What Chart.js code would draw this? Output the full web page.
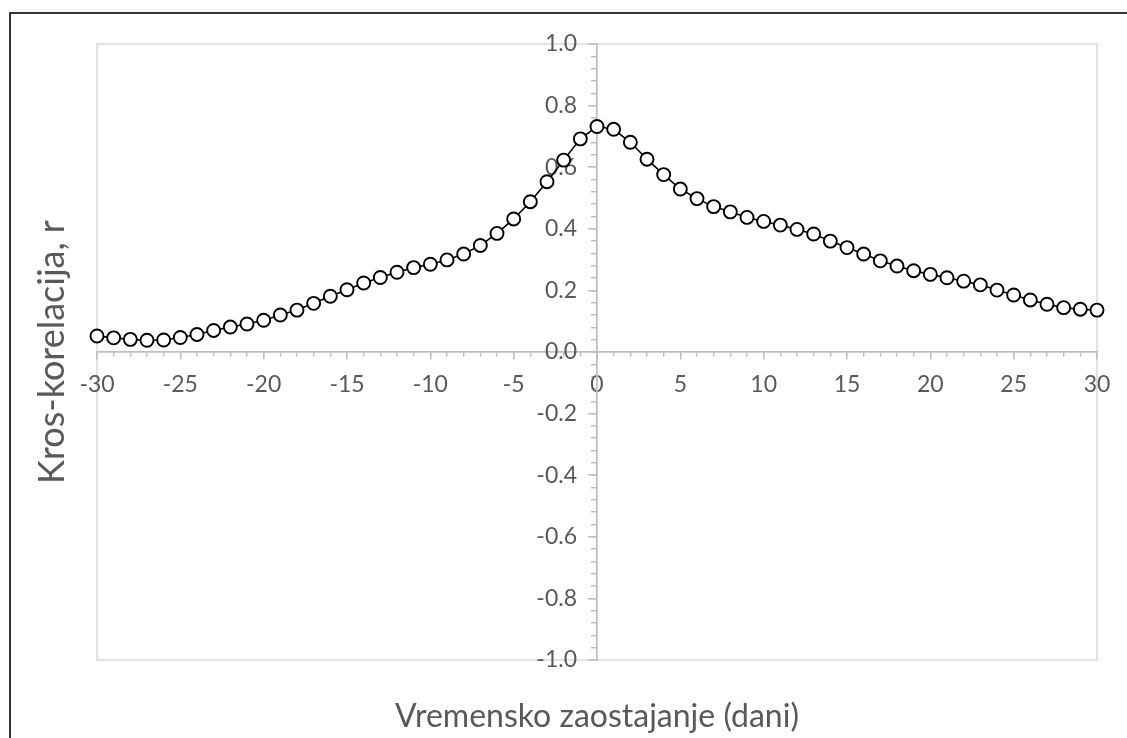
<!DOCTYPE html>
<html>
<head>
<meta charset="utf-8">
<script src="https://cdn.jsdelivr.net/npm/chart.js@4/dist/chart.umd.min.js"></script>
<style>
  body { margin: 0; background: #fff; }
  #wrap { width: 1127px; height: 738px; position: relative; }
</style>
</head>
<body>
<div id="wrap"><canvas id="Chart"></canvas></div>
<script>
const lags = [-30, -29, -28, -27, -26, -25, -24, -23, -22, -21, -20, -19, -18, -17, -16, -15,
    -14, -13, -12, -11, -10, -9, -8, -7, -6, -5, -4, -3, -2, -1, 0, 1, 2, 3, 4, 5, 6, 7, 8, 9,
    10, 11, 12, 13, 14, 15, 16, 17, 18, 19, 20, 21, 22, 23, 24, 25, 26, 27, 28, 29, 30];
const correlation = [0.052, 0.046, 0.041, 0.038, 0.039, 0.047, 0.057, 0.070, 0.081, 0.091,
    0.103, 0.120, 0.136, 0.158, 0.181, 0.202, 0.224, 0.242, 0.259, 0.274, 0.285, 0.299, 0.318,
    0.346, 0.385, 0.432, 0.488, 0.553, 0.623, 0.692, 0.732, 0.723, 0.681, 0.626, 0.576, 0.529,
    0.498, 0.472, 0.455, 0.437, 0.424, 0.412, 0.398, 0.383, 0.360, 0.339, 0.318, 0.296, 0.279,
    0.264, 0.252, 0.241, 0.230, 0.218, 0.201, 0.185, 0.169, 0.155, 0.144, 0.139, 0.136];
const xTitle = "Vremensko zaostajanje (dani)";
const yTitle = "Kros-korelacija, r";

const FONT = "Lato, 'Open Sans', sans-serif";
const GREY = "#595959";
const AXIS = "#bfbfbf";

// y labels of an axis placed at x=0 ignore ticks.padding, so push them left here
const yLabelShift = {
    id: "yLabelShift",
    afterLayout(chart) {
        chart.scales.y.getLabelItems().forEach(item => {
            item.options.translation[0] -= 20;
        });
    }
};

const frame = {
    id: "frame",
    beforeDraw(chart) {
        const { ctx, chartArea: a } = chart;
        ctx.save();
        ctx.strokeStyle = "#d9d9d9";
        ctx.lineWidth = 1.5;
        ctx.strokeRect(a.left, a.top, a.right - a.left, a.bottom - a.top);
        ctx.restore();
    },
    afterDraw(chart) {
        const { ctx, chartArea: a } = chart;
        ctx.save();
        ctx.strokeStyle = "#333";
        ctx.lineWidth = 2;
        ctx.beginPath();
        ctx.moveTo(10, chart.height);
        ctx.lineTo(10, 13);
        ctx.lineTo(chart.width, 13);
        ctx.stroke();

        ctx.fillStyle = GREY;
        ctx.textAlign = "center";
        ctx.textBaseline = "middle";
        ctx.font = "32px " + FONT;
        ctx.fillText(xTitle, (a.left + a.right) / 2, 717);
        ctx.font = "36px " + FONT;
        ctx.translate(52, (a.top + a.bottom) / 2);
        ctx.rotate(-Math.PI / 2);
        ctx.fillText(yTitle, 0, 0);
        ctx.restore();
    }
};

const tickFont = { family: FONT, size: 23 };

new Chart(document.getElementById("Chart"), {
    type: "scatter",
    data: {
        datasets: [{
            data: lags.map((x, i) => ({ x: x, y: correlation[i] })),
            showLine: true,
            borderColor: "#000",
            borderWidth: 1.6,
            pointRadius: 6.5,
            pointHoverRadius: 6.5,
            pointBorderWidth: 1.9,
            pointBackgroundColor: "#fff",
            pointBorderColor: "#000",
            clip: false,
            xAxisID: "x",
            yAxisID: "y"
        }]
    },
    options: {
        responsive: true,
        maintainAspectRatio: false,
        animation: false,
        layout: { padding: { left: 97, top: 44, right: 30, bottom: 78 } },
        plugins: { legend: { display: false }, tooltip: { enabled: false } },
        scales: {
            x: {
                type: "linear", min: -30, max: 30, position: { y: 0 },
                ticks: { stepSize: 5, autoSkip: false, maxRotation: 0, font: tickFont, color: GREY, padding: 12 },
                grid: { drawOnChartArea: false, tickLength: 7, color: AXIS, lineWidth: 1.5 },
                border: { color: AXIS, width: 1.5 }
            },
            x2: {
                axis: "x", type: "linear", min: -30, max: 30, position: { y: 0 },
                ticks: { stepSize: 1, display: false },
                grid: { drawOnChartArea: false, tickLength: 4, color: AXIS, lineWidth: 1.5 },
                border: { color: AXIS, width: 1.5 }
            },
            y: {
                type: "linear", min: -1, max: 1, position: { x: 0 },
                ticks: { stepSize: 0.2, autoSkip: false, font: tickFont, color: GREY,
                    callback: v => v.toFixed(1) },
                grid: { drawOnChartArea: false, tickLength: 8, color: AXIS, lineWidth: 1.5 },
                border: { color: AXIS, width: 1.5 }
            },
            y2: {
                axis: "y", type: "linear", min: -1, max: 1, position: { x: 0 },
                ticks: { stepSize: 0.04, display: false },
                grid: { drawOnChartArea: false, tickLength: 5, color: AXIS, lineWidth: 1.5 },
                border: { color: AXIS, width: 1.5 }
            }
        }
    },
    plugins: [frame, yLabelShift]
});
</script>
</body>
</html>
